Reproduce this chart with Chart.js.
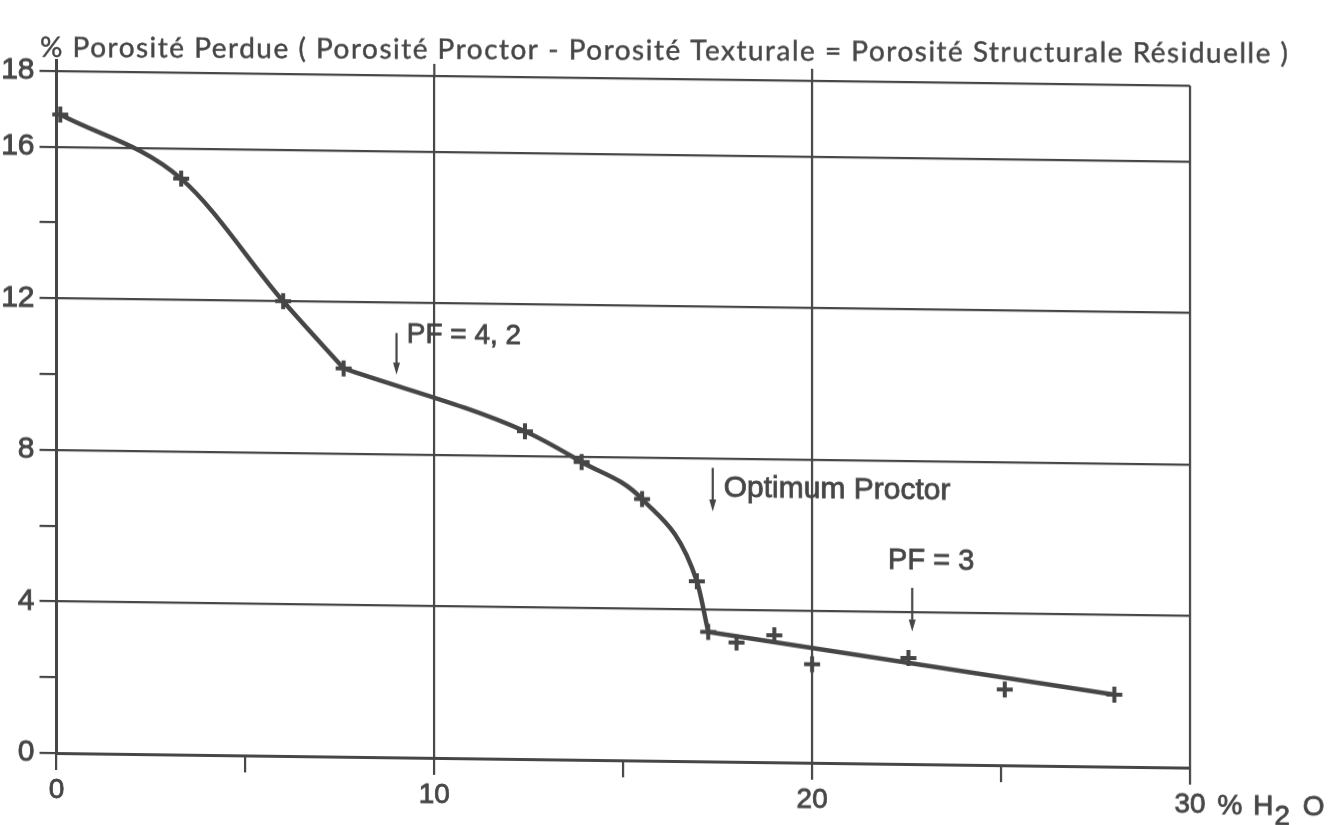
<!DOCTYPE html>
<html lang="fr">
<head>
<meta charset="utf-8">
<title>Porosité perdue en fonction de la teneur en eau</title>
<script src="https://cdn.jsdelivr.net/npm/chart.js@4.4.1/dist/chart.umd.min.js"></script>
<style>
  html, body { margin: 0; padding: 0; background: #fff; overflow: hidden; }
  #wrap { position: relative; width: 1340px; height: 825px; }
  /* the original sheet is slightly sheared: horizontals drop to the right */
  #chart { display: block; transform: skewY(0.74deg); transform-origin: 56px 0; }
</style>
</head>
<body>
<div id="wrap"><canvas id="chart" width="1340" height="825"></canvas></div>
<script>
// Teneur en eau (% H2O) et porosité perdue mesurées
const waterContent = [0.1, 3.3, 6.0, 7.6, 12.4, 13.9, 15.5, 16.95, 17.25, 18.0, 19.0, 20.0, 22.55, 25.1, 28.0];
const porosityLost = [16.85, 15.2, 12.0, 10.25, 8.65, 7.86, 6.9, 4.75, 3.42, 3.15, 3.35, 2.6, 2.8, 2.0, 1.9];

// Points repris par chaque portion du tracé
const upperCurve = [0, 1, 2, 3];
const middleCurve = [3, 4, 5, 6, 7, 8];
const lowerLine = [8, 14];

// Graduations
const xTicks = [0, 5, 10, 15, 20, 25, 30];
const xLabels = [0, 10, 20, 30];
const yTicks = [0, 2, 4, 6, 8, 10, 12, 14, 16, 18];
const yLabels = [0, 4, 8, 12, 16, 18];

const titleText = '% Porosité Perdue ( Porosité Proctor - Porosité Texturale = Porosité Structurale Résiduelle )';

// Repères annotés sur la courbe
const markers = [
  { text: 'PF = 4, 2', arrowX: 9.0, arrowTop: 11.2, arrowBottom: 10.1, textX: 9.27, textY: 11.15, align: 'left', size: 28 },
  { text: 'Optimum Proctor', arrowX: 17.37, arrowTop: 7.75, arrowBottom: 6.6, textX: 17.66, textY: 7.2, align: 'left', size: 30 },
  { text: 'PF = 3', arrowX: 22.65, arrowTop: 4.65, arrowBottom: 3.5, textX: 23.15, textY: 5.35, align: 'center', size: 29 }
];

const INK = '#464646';
const SANS = '"Liberation Sans", Arial, sans-serif';
const pts = idx => idx.map(i => ({ x: waterContent[i], y: porosityLost[i] }));

// filled text with a thin outline so the lettering has the weight of the drawing
function inkText(ctx, str, px, py) {
  ctx.fillText(str, px, py);
  ctx.strokeText(str, px, py);
}

const decorations = {
  id: 'decorations',
  afterDraw(chart) {
    const { ctx, chartArea: a, scales: { x, y } } = chart;
    ctx.save();
    ctx.strokeStyle = INK;
    ctx.fillStyle = INK;

    // vertical rules rise a little above the top frame line
    [0, 10, 20].forEach(v => {
      const px = x.getPixelForValue(v);
      ctx.lineWidth = v === 0 ? 3 : 2.2;
      ctx.beginPath();
      ctx.moveTo(px, a.top - 12);
      ctx.lineTo(px, a.top);
      ctx.stroke();
    });

    // title, lettered almost level across the sheet
    ctx.save();
    ctx.transform(1, -0.008, 0, 1, 0, 0.008 * 40);
    ctx.font = '28px Lato, ' + SANS;
    ctx.textBaseline = 'alphabetic';
    ctx.textAlign = 'left';
    ctx.letterSpacing = '0px';
    const w = ctx.measureText(titleText).width;
    ctx.letterSpacing = ((1250 - w) / titleText.length).toFixed(2) + 'px';
    ctx.lineWidth = 0.45;
    inkText(ctx, titleText, 40, 57);
    ctx.restore();
    ctx.letterSpacing = '0px';

    // unit after the last x label: % H2 O
    ctx.font = '28px ' + SANS;
    ctx.textBaseline = 'middle';
    ctx.textAlign = 'left';
    ctx.lineWidth = 0.8;
    const x30 = x.getPixelForValue(30);
    const ly = a.bottom + 38;
    let cx = x30 + ctx.measureText('30').width / 2 + 12;
    inkText(ctx, '%', cx, ly);
    cx += ctx.measureText('% ').width + 3;
    inkText(ctx, 'H', cx, ly);
    cx += ctx.measureText('H').width + 1;
    inkText(ctx, '2', cx, ly + 10);
    cx += ctx.measureText('2 ').width + 5;
    inkText(ctx, 'O', cx, ly);

    // annotations with down arrows
    markers.forEach(m => {
      const ax = x.getPixelForValue(m.arrowX);
      const y0 = y.getPixelForValue(m.arrowTop);
      const y1 = y.getPixelForValue(m.arrowBottom);
      ctx.lineWidth = 2.2;
      ctx.beginPath();
      ctx.moveTo(ax, y0);
      ctx.lineTo(ax, y1 - 10);
      ctx.stroke();
      ctx.beginPath();
      ctx.moveTo(ax - 3.5, y1 - 12);
      ctx.lineTo(ax + 3.5, y1 - 12);
      ctx.lineTo(ax, y1);
      ctx.closePath();
      ctx.fill();

      ctx.font = m.size + 'px ' + SANS;
      ctx.textAlign = m.align;
      ctx.textBaseline = 'middle';
      ctx.lineWidth = 0.8;
      inkText(ctx, m.text, x.getPixelForValue(m.textX), y.getPixelForValue(m.textY));
    });
    ctx.restore();
  }
};

const curveStyle = {
  showLine: true,
  pointRadius: 0,
  borderColor: INK,
  borderWidth: 4.5,
  borderCapStyle: 'round',
  borderJoinStyle: 'round',
  cubicInterpolationMode: 'monotone',
  clip: false
};

const gridFor = labels => ({
  color: c => (c.tick && labels.includes(c.tick.value)) ? INK : 'rgba(0,0,0,0)',
  lineWidth: 2.2,
  tickColor: INK,
  tickWidth: 2.2,
  tickLength: 17,
  drawTicks: true
});

new Chart(document.getElementById('chart'), {
  type: 'scatter',
  data: {
    datasets: [
      { label: 'courbe haute', data: pts(upperCurve), ...curveStyle },
      { label: 'courbe médiane', data: pts(middleCurve), ...curveStyle },
      { label: 'droite', data: pts(lowerLine), ...curveStyle, cubicInterpolationMode: 'default', tension: 0 },
      {
        label: 'mesures',
        data: waterContent.map((v, i) => ({ x: v, y: porosityLost[i] })),
        showLine: false,
        pointStyle: 'cross',
        pointRadius: 8,
        pointBorderWidth: 4,
        pointBorderColor: INK,
        pointBackgroundColor: INK,
        clip: false
      }
    ]
  },
  options: {
    responsive: false,
    animation: false,
    events: [],
    layout: { padding: { left: 0, top: 71, right: 150, bottom: 0 } },
    plugins: { legend: { display: false }, tooltip: { enabled: false }, title: { display: false } },
    scales: {
      x: {
        type: 'linear',
        min: 0,
        max: 30,
        afterBuildTicks: s => { s.ticks = xTicks.map(v => ({ value: v })); },
        afterFit: s => { s.height = 72; },
        grid: gridFor(xLabels),
        border: { display: true, color: INK, width: 3 },
        ticks: {
          color: INK,
          textStrokeColor: INK,
          textStrokeWidth: 0.8,
          padding: 3,
          maxRotation: 0,
          autoSkip: false,
          font: { family: SANS, size: 28 },
          callback: v => xLabels.includes(v) ? String(v) : ''
        }
      },
      y: {
        type: 'linear',
        min: 0,
        max: 18,
        afterBuildTicks: s => { s.ticks = yTicks.map(v => ({ value: v })); },
        afterFit: s => { s.width = 56.5; },
        grid: gridFor(yLabels),
        border: { display: true, color: INK, width: 3 },
        ticks: {
          color: INK,
          textStrokeColor: INK,
          textStrokeWidth: 0.9,
          padding: 5,
          autoSkip: false,
          font: { family: '"Liberation Sans Narrow", ' + SANS, size: 30 },
          callback: v => yLabels.includes(v) ? String(v) : ''
        }
      }
    }
  },
  plugins: [decorations]
});
</script>
</body>
</html>
